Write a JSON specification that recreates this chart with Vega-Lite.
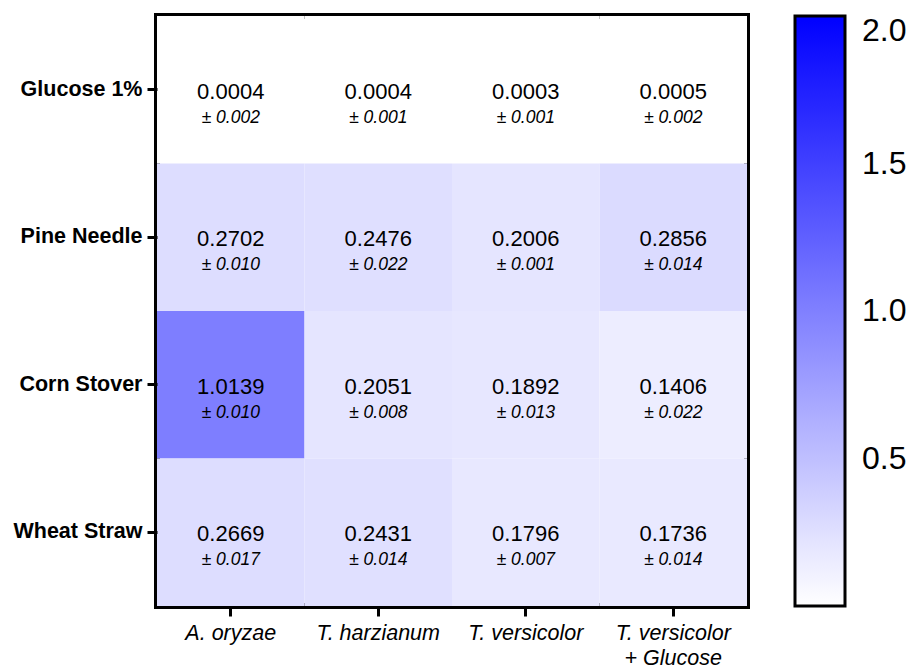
{
  "$schema": "https://vega.github.io/schema/vega-lite/v6.json",
  "width": 590,
  "height": 590,
  "autosize": {"type": "none"},
  "padding": {"left": 157, "top": 16, "right": 166, "bottom": 63},
  "background": "white",
  "data": {
    "values": [
      {"substrate": "Glucose 1%", "fungus": "A. oryzae", "value": 0.0004, "sd": 0.002},
      {"substrate": "Glucose 1%", "fungus": "T. harzianum", "value": 0.0004, "sd": 0.001},
      {"substrate": "Glucose 1%", "fungus": "T. versicolor", "value": 0.0003, "sd": 0.001},
      {"substrate": "Glucose 1%", "fungus": "T. versicolor + Glucose", "value": 0.0005, "sd": 0.002},
      {"substrate": "Pine Needle", "fungus": "A. oryzae", "value": 0.2702, "sd": 0.010},
      {"substrate": "Pine Needle", "fungus": "T. harzianum", "value": 0.2476, "sd": 0.022},
      {"substrate": "Pine Needle", "fungus": "T. versicolor", "value": 0.2006, "sd": 0.001},
      {"substrate": "Pine Needle", "fungus": "T. versicolor + Glucose", "value": 0.2856, "sd": 0.014},
      {"substrate": "Corn Stover", "fungus": "A. oryzae", "value": 1.0139, "sd": 0.010},
      {"substrate": "Corn Stover", "fungus": "T. harzianum", "value": 0.2051, "sd": 0.008},
      {"substrate": "Corn Stover", "fungus": "T. versicolor", "value": 0.1892, "sd": 0.013},
      {"substrate": "Corn Stover", "fungus": "T. versicolor + Glucose", "value": 0.1406, "sd": 0.022},
      {"substrate": "Wheat Straw", "fungus": "A. oryzae", "value": 0.2669, "sd": 0.017},
      {"substrate": "Wheat Straw", "fungus": "T. harzianum", "value": 0.2431, "sd": 0.014},
      {"substrate": "Wheat Straw", "fungus": "T. versicolor", "value": 0.1796, "sd": 0.007},
      {"substrate": "Wheat Straw", "fungus": "T. versicolor + Glucose", "value": 0.1736, "sd": 0.014}
    ]
  },
  "transform": [
    {"calculate": "'± ' + format(datum.sd, '.3f')", "as": "sdLabel"}
  ],
  "encoding": {
    "x": {
      "field": "fungus",
      "type": "nominal",
      "sort": ["A. oryzae", "T. harzianum", "T. versicolor", "T. versicolor + Glucose"],
      "title": null,
      "axis": {
        "labelAngle": 0,
        "labelFont": "Liberation Sans",
        "labelFontStyle": "italic",
        "labelFontSize": 21.5,
        "labelColor": "black",
        "labelPadding": 6,
        "labelLineHeight": 25,
        "labelExpr": "datum.value == 'T. versicolor + Glucose' ? ['T. versicolor', '+ Glucose'] : datum.label",
        "domain": false,
        "tickColor": "black",
        "tickWidth": 3,
        "tickSize": 10
      }
    },
    "y": {
      "field": "substrate",
      "type": "nominal",
      "sort": ["Glucose 1%", "Pine Needle", "Corn Stover", "Wheat Straw"],
      "title": null,
      "axis": {
        "labelFont": "Liberation Sans",
        "labelFontWeight": "bold",
        "labelFontSize": 21.5,
        "labelColor": "black",
        "labelPadding": 5,
        "domain": false,
        "tickColor": "black",
        "tickWidth": 3,
        "tickSize": 10
      }
    }
  },
  "layer": [
    {
      "mark": {"type": "rect"},
      "encoding": {
        "color": {
          "field": "value",
          "type": "quantitative",
          "scale": {"domain": [0, 2], "range": ["#ffffff", "#0000ff"], "interpolate": "rgb"},
          "legend": {
            "title": null,
            "orient": "none",
            "legendX": 638,
            "legendY": 0,
            "direction": "vertical",
            "gradientLength": 590,
            "gradientThickness": 50,
            "gradientStrokeColor": "black",
            "gradientStrokeWidth": 3,
            "values": [0.5, 1, 1.5, 2],
            "format": ".1f",
            "labelFont": "Liberation Sans",
            "labelFontSize": 32,
            "labelColor": "black",
            "labelOffset": 17,
            "labelBaseline": "middle",
            "labelOverlap": false
          }
        }
      }
    },
    {
      "mark": {"type": "text", "font": "Liberation Sans", "fontSize": 22, "color": "black", "baseline": "middle", "yOffset": 2},
      "encoding": {"text": {"field": "value", "type": "quantitative", "format": ".4f"}}
    },
    {
      "mark": {"type": "text", "font": "Liberation Sans", "fontSize": 17.5, "fontStyle": "italic", "color": "black", "baseline": "middle", "yOffset": 28},
      "encoding": {"text": {"field": "sdLabel", "type": "nominal"}}
    }
  ],
  "config": {
    "view": {"stroke": "black", "strokeWidth": 6},
    "legend": {"padding": 0}
  }
}
